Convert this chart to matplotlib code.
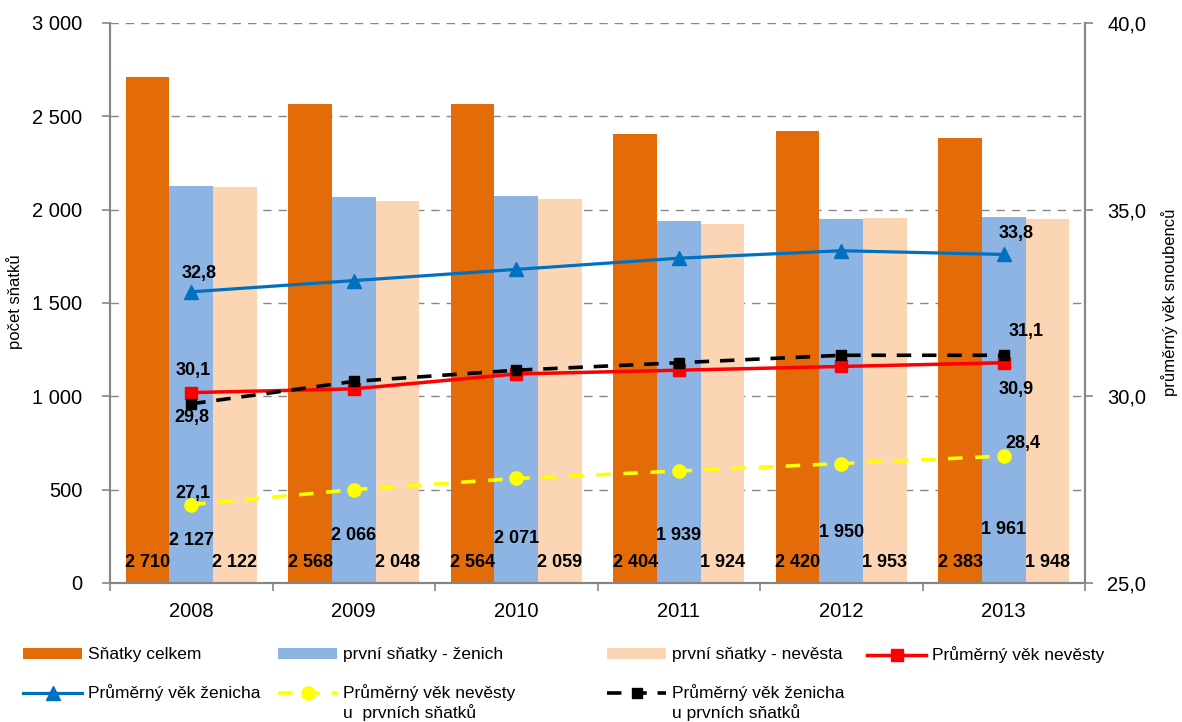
import matplotlib
matplotlib.use("Agg")
import matplotlib.pyplot as plt
import numpy as np

plt.rcParams['font.family'] = ['Liberation Sans', 'DejaVu Sans']

years = ["2008", "2009", "2010", "2011", "2012", "2013"]
snatky_celkem = [2710, 2568, 2564, 2404, 2420, 2383]
prvni_zenich = [2127, 2066, 2071, 1939, 1950, 1961]
prvni_nevesta = [2122, 2048, 2059, 1924, 1953, 1948]
vek_nevesty = [30.1, 30.2, 30.6, 30.7, 30.8, 30.9]
vek_zenicha = [32.8, 33.1, 33.4, 33.7, 33.9, 33.8]
vek_nevesty_prvni = [27.1, 27.5, 27.8, 28.0, 28.2, 28.4]
vek_zenicha_prvni = [29.8, 30.4, 30.7, 30.9, 31.1, 31.1]

left_ticks = [0, 500, 1000, 1500, 2000, 2500, 3000]
right_ticks = [25, 30, 35, 40]

W, H = 1182, 722
C_OR = "#E36C09"
C_BL = "#8DB4E2"
C_PE = "#FCD5B4"
C_GR = "#868686"

fig = plt.figure(figsize=(W / 100, H / 100), dpi=100)
ax = fig.add_axes([110 / W, 1 - 583 / H, 975 / W, 560 / H])
ax2 = ax.twinx()

x = np.arange(len(years))
bw = 0.268
b1 = ax.bar(x - bw, snatky_celkem, bw, color=C_OR, zorder=2)
b2 = ax.bar(x, prvni_zenich, bw, color=C_BL, zorder=2)
b3 = ax.bar(x + bw, prvni_nevesta, bw, color=C_PE, zorder=2)

ax.set_xlim(-0.5, len(years) - 0.5)
ax.set_ylim(0, 3000)
ax.set_yticks(left_ticks)
ax.set_yticklabels([f"{v:,}".replace(",", " ") for v in left_ticks])
ax.yaxis.grid(True, color=C_GR, linestyle=(0, (6, 5)), linewidth=1)
ax.set_axisbelow(True)

ax.set_xticks(x)
ax.set_xticklabels(years)
ax.set_xticks(np.arange(len(years) + 1) - 0.5, minor=True)
ax.tick_params(axis='x', which='major', length=0, labelsize=14.5, pad=14)
ax.tick_params(axis='x', which='minor', length=6, width=1.2, color=C_GR, direction='out')
ax.tick_params(axis='y', length=6, width=1.2, color=C_GR, labelsize=14.5, pad=14)

for a in (ax, ax2):
    a.spines['top'].set_visible(False)
    for sp in ['left', 'right', 'bottom']:
        a.spines[sp].set_color(C_GR)
        a.spines[sp].set_linewidth(1.5)

ax2.set_ylim(25, 40)
ax2.set_yticks(right_ticks)
ax2.set_yticklabels([f"{v:.1f}".replace(".", ",") for v in right_ticks])
ax2.tick_params(axis='y', length=6, width=1.2, color=C_GR, labelsize=14.5, pad=10)

fig.text(15 / W, 1 - 302 / H, "počet sňatků", fontsize=12, rotation=90,
         ha='center', va='center')
fig.text(1170 / W, 1 - 302 / H, "průměrný věk snoubenců", fontsize=12, rotation=90,
         ha='center', va='center')

l_zen, = ax2.plot(x, vek_zenicha, color="#0070C0", lw=2.3, marker='^', ms=10, zorder=5)
l_nev, = ax2.plot(x, vek_nevesty, color="#FF0000", lw=2.5, marker='s', ms=9, zorder=5)
l_zp, = ax2.plot(x, vek_zenicha_prvni, color="black", lw=2.6, marker='s', ms=7.5,
                 dashes=(4, 3), zorder=6)
l_np, = ax2.plot(x, vek_nevesty_prvni, color="#FFFF00", lw=2.6, marker='o', ms=9.5,
                 dashes=(4, 3.5), zorder=5)

# bar data labels
lab_fs = 13
base_y = 112
blue_y = [230, 257, 241, 252, 268, 284]
for i in range(len(years)):
    ax.text(x[i] - bw, base_y, f"{snatky_celkem[i]:,}".replace(",", " "), ha='center', va='center',
            fontsize=lab_fs, fontweight='bold', zorder=7)
    ax.text(x[i] + bw, base_y, f"{prvni_nevesta[i]:,}".replace(",", " "), ha='center', va='center',
            fontsize=lab_fs, fontweight='bold', zorder=7)
    ax.text(x[i], blue_y[i], f"{prvni_zenich[i]:,}".replace(",", " "), ha='center', va='center',
            fontsize=lab_fs, fontweight='bold', zorder=7)

def lab(series, idx, dx, dy):
    ax2.annotate(f"{series[idx]:.1f}".replace(".", ","), (x[idx], series[idx]),
                 xytext=(dx, dy), textcoords='offset points', ha='center', va='center',
                 fontsize=lab_fs, fontweight='bold', zorder=8)

lab(vek_zenicha, 0, 6, 13)
lab(vek_zenicha, 5, 9, 15)
lab(vek_nevesty, 0, 1.5, 16)
lab(vek_nevesty, 5, 9, -19)
lab(vek_zenicha_prvni, 0, 0.7, -10)
lab(vek_zenicha_prvni, 5, 16, 17)
lab(vek_nevesty_prvni, 0, 1.5, 8)
lab(vek_nevesty_prvni, 5, 14, 9)

# legend
leg_fs = 12.5
entries = [
    (b1, "Sňatky celkem", 23, 655, None),
    (b2, "první sňatky - ženich", 278, 655, None),
    (b3, "první sňatky - nevěsta", 607, 655, None),
    (l_nev, "Průměrný věk nevěsty", 867, 655, None),
    (l_zen, "Průměrný věk ženicha", 23, 693, None),
    (l_np, "Průměrný věk nevěsty", 278, 693, "u  prvních sňatků"),
    (l_zp, "Průměrný věk ženicha", 607, 693, "u prvních sňatků"),
]
hl, htp = 3.4, 0.35
for h, text, px, py, second in entries:
    fig.legend(handles=[h], labels=[text], loc='center left',
               bbox_to_anchor=(px / W, 1 - py / H), frameon=False, borderpad=0,
               borderaxespad=0, handlelength=hl, handletextpad=htp, handleheight=0.65,
               fontsize=leg_fs, numpoints=1)
    if second:
        tx = px + (hl + htp) * leg_fs / 0.72
        fig.text(tx / W, 1 - 713 / H, second, fontsize=leg_fs, ha='left', va='center')

fig.savefig("out.png", dpi=100)
